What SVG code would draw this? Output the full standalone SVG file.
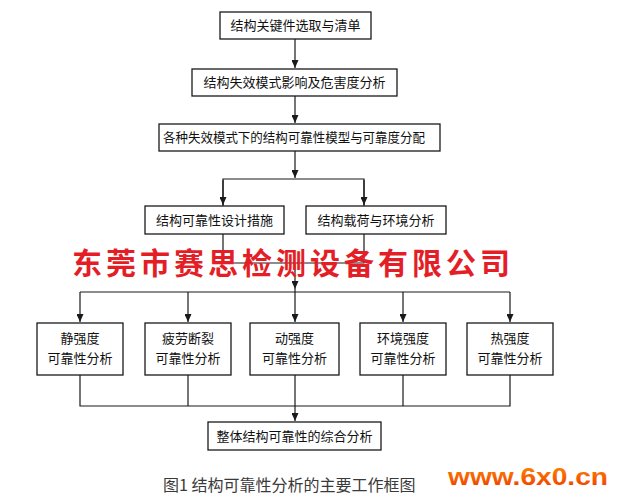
<svg xmlns="http://www.w3.org/2000/svg" width="622" height="499" viewBox="0 0 622 499">
<style>
.box{fill:#fff;stroke:#1a1a1a;stroke-width:1.3}
.t{font-family:"Noto Sans CJK SC","Liberation Sans",sans-serif;font-size:13px;fill:#111;text-anchor:middle}
.ln{fill:none;stroke:#1a1a1a;stroke-width:1.2}
.cap{font-family:"Noto Sans CJK SC","Liberation Sans",sans-serif;font-size:16px;fill:#3a3a3a}
.wm{font-family:"Noto Sans CJK SC",sans-serif;font-size:30px;font-weight:700;fill:#e41e26;letter-spacing:4px}
.url{font-family:"Liberation Sans",Arial,sans-serif;font-size:24px;font-weight:700}
</style>
<defs>
<marker id="a" markerUnits="userSpaceOnUse" markerWidth="7" markerHeight="8" refX="3.5" refY="8" viewBox="0 0 7 8" orient="0">
<path d="M0,0 L7,0 L3.5,8 Z" fill="#1a1a1a"/>
</marker>
<linearGradient id="og" x1="0" y1="0" x2="0" y2="1">
<stop offset="0" stop-color="#ff8c00"/>
<stop offset="1" stop-color="#ee3a00"/>
</linearGradient>
</defs>
<rect width="622" height="499" fill="#fff"/>

<g id="connectors">
<line class="ln" x1="295" y1="39" x2="295" y2="68" marker-end="url(#a)"/>
<line class="ln" x1="295" y1="96" x2="295" y2="123" marker-end="url(#a)"/>
<line class="ln" x1="295" y1="151" x2="295" y2="178" marker-end="url(#a)"/>
<polyline class="ln" points="223,206 223,179 364,179 364,206"/>
<line class="ln" x1="223" y1="180" x2="223" y2="205" marker-end="url(#a)"/>
<line class="ln" x1="364" y1="180" x2="364" y2="205" marker-end="url(#a)"/>
<polyline class="ln" points="223,234 223,263 364,263 364,234"/>
<line class="ln" x1="295" y1="263" x2="295" y2="289" marker-end="url(#a)"/>
<line class="ln" x1="80" y1="292" x2="510" y2="292"/>
<line class="ln" x1="80" y1="292" x2="80" y2="322" marker-end="url(#a)"/>
<line class="ln" x1="188" y1="292" x2="188" y2="322" marker-end="url(#a)"/>
<line class="ln" x1="295" y1="289" x2="295" y2="322" marker-end="url(#a)"/>
<line class="ln" x1="403" y1="292" x2="403" y2="322" marker-end="url(#a)"/>
<line class="ln" x1="510" y1="292" x2="510" y2="322" marker-end="url(#a)"/>
<polyline class="ln" points="80,375 80,406 510,406 510,375"/>
<line class="ln" x1="188" y1="375" x2="188" y2="406"/>
<line class="ln" x1="403" y1="375" x2="403" y2="406"/>
<line class="ln" x1="295" y1="375" x2="295" y2="421" marker-end="url(#a)"/>
</g>

<g id="n1"><rect class="box" x="220" y="12" width="151" height="27"/><text class="t" x="295.5" y="30">结构关键件选取与清单</text></g>
<g id="n2"><rect class="box" x="192" y="69" width="205" height="27"/><text class="t" x="294.5" y="87">结构失效模式影响及危害度分析</text></g>
<g id="n3"><rect class="box" x="159" y="124" width="281" height="27"/><text class="t" x="294" y="142" textLength="262" lengthAdjust="spacingAndGlyphs">各种失效模式下的结构可靠性模型与可靠度分配</text></g>
<g id="n4"><rect class="box" x="145" y="206" width="139" height="28"/><text class="t" x="214.5" y="225">结构可靠性设计措施</text></g>
<g id="n5"><rect class="box" x="306" y="206" width="140" height="28"/><text class="t" x="376" y="225">结构载荷与环境分析</text></g>
<g id="n6"><rect class="box" x="37" y="323" width="86" height="52"/><text class="t" x="80" y="343">静强度</text><text class="t" x="80" y="363">可靠性分析</text></g>
<g id="n7"><rect class="box" x="145" y="323" width="86" height="52"/><text class="t" x="188" y="343">疲劳断裂</text><text class="t" x="188" y="363">可靠性分析</text></g>
<g id="n8"><rect class="box" x="250" y="323" width="89" height="52"/><text class="t" x="294.5" y="343">动强度</text><text class="t" x="294.5" y="363">可靠性分析</text></g>
<g id="n9"><rect class="box" x="360" y="323" width="86" height="52"/><text class="t" x="403" y="343">环境强度</text><text class="t" x="403" y="363">可靠性分析</text></g>
<g id="n10"><rect class="box" x="467" y="323" width="86" height="52"/><text class="t" x="510" y="343">热强度</text><text class="t" x="510" y="363">可靠性分析</text></g>
<g id="n11"><rect class="box" x="208" y="422" width="173" height="28"/><text class="t" x="294.5" y="441">整体结构可靠性的综合分析</text></g>

<text class="wm" x="72" y="274">东莞市赛思检测设备有限公司</text>
<text class="cap" x="163" y="491">图1 结构可靠性分析的主要工作框图</text>
<text class="url" x="448" y="485" fill="url(#og)" textLength="160" lengthAdjust="spacingAndGlyphs">www.6x0.cn</text>
</svg>
